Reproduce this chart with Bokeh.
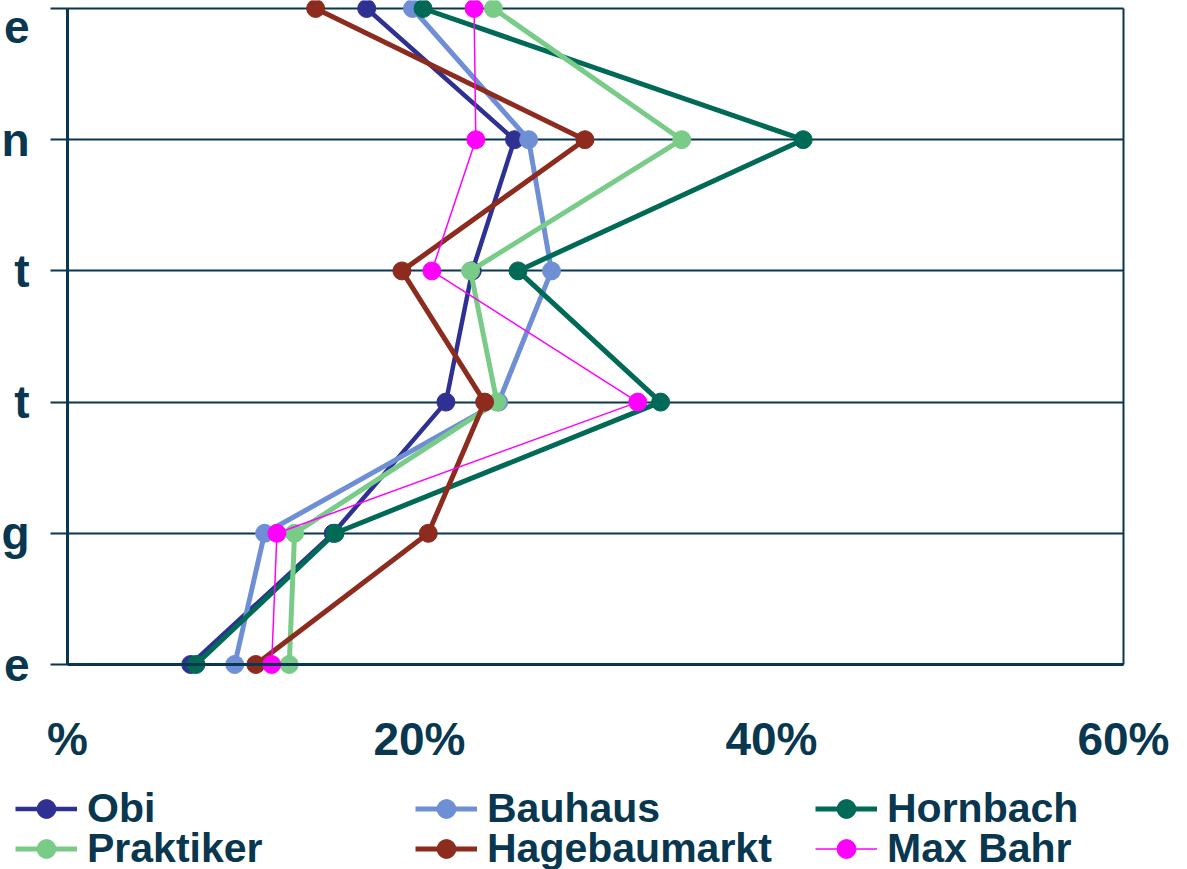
from bokeh.plotting import figure
from bokeh.models import Range1d, FixedTicker, Legend, LegendItem, LinearAxis
from bokeh.embed import file_html
from bokeh.resources import INLINE

# visible (cropped) category label endings, top to bottom
categories = ["e", "n", "t", "t", "g", "e"]
x_ticks = [0, 20, 40, 60]
x_tick_labels = ["%", "20%", "40%", "60%"]

series_names = ["Obi", "Bauhaus", "Hornbach", "Praktiker", "Hagebaumarkt", "Max Bahr"]
obi = [17.0, 25.4, 23.0, 21.5, 15.1, 7.0]
bauhaus = [19.6, 26.2, 27.5, 24.5, 11.2, 9.5]
hornbach = [20.2, 41.8, 25.6, 33.7, 15.2, 7.3]
praktiker = [24.2, 34.9, 22.9, 24.4, 12.9, 12.6]
hagebaumarkt = [14.1, 29.4, 19.0, 23.7, 20.5, 10.7]
max_bahr = [23.1, 23.2, 20.7, 32.4, 11.9, 11.6]

values = [obi, bauhaus, hornbach, praktiker, hagebaumarkt, max_bahr]
colors = ["#2E3192", "#6E8FD6", "#006A57", "#79CB88", "#8C2B1E", "#FF00FF"]
widths = [4.5, 5, 5, 5, 5, 1.5]

NAVY = "#08374F"
FONT = "Liberation Sans"

n = len(categories)
ypos = [n - 1 - i for i in range(n)]
xmin, xmax = x_ticks[0], x_ticks[-1]
ymin, ymax = min(ypos), max(ypos)

# canvas geometry (pixels): plot box inside a full-canvas frame
W, H = 1187, 869
BOX_L, BOX_R, BOX_T, BOX_B = 67, 1123, 8, 664
kx = (BOX_R - BOX_L) / (xmax - xmin)
ky = (BOX_B - BOX_T) / (ymax - ymin)
x_range = Range1d(xmin - BOX_L / kx, xmax + (W - BOX_R) / kx)
y_range = Range1d(ymin - (H - BOX_B) / ky, ymax + BOX_T / ky)

p = figure(width=W, height=H, output_backend="svg", toolbar_location=None,
           x_range=x_range, y_range=y_range,
           min_border_left=0, min_border_right=0, min_border_top=0, min_border_bottom=0)
p.background_fill_color = "white"
p.border_fill_color = "white"
p.outline_line_color = None

p.xgrid.visible = False
g = p.ygrid[0]
g.ticker = FixedTicker(ticks=ypos)
g.grid_line_color = NAVY
g.grid_line_width = 2
g.bounds = (ymin, ymax)
if "cross_bounds" in g.properties():
    g.cross_bounds = (xmin, xmax)

xa = p.xaxis[0]
xa.fixed_location = ymin
xa.bounds = (xmin, xmax)
xa.ticker = FixedTicker(ticks=x_ticks)
xa.major_label_overrides = {t: l for t, l in zip(x_ticks, x_tick_labels)}
xa.axis_line_color = NAVY
xa.axis_line_width = 3
xa.major_tick_out = 0
xa.major_tick_in = 0
xa.minor_tick_out = 0
xa.minor_tick_in = 0
xa.major_label_standoff = 48
xa.major_label_text_font = FONT
xa.major_label_text_font_style = "bold"
xa.major_label_text_font_size = "46px"
xa.major_label_text_color = NAVY

ya = p.yaxis[0]
ya.fixed_location = xmin
ya.bounds = (ymin, ymax)
ya.ticker = FixedTicker(ticks=ypos)
ya.major_label_overrides = {y: c for y, c in zip(ypos, categories)}
ya.axis_line_color = NAVY
ya.axis_line_width = 3
ya.major_tick_out = 17
ya.major_tick_in = 0
ya.major_tick_line_color = NAVY
ya.major_tick_line_width = 2
ya.minor_tick_out = 0
ya.minor_tick_in = 0
ya.major_label_standoff = 21
ya.major_label_text_font = FONT
ya.major_label_text_font_style = "bold"
ya.major_label_text_font_size = "46px"
ya.major_label_text_color = NAVY

# right border of the plot box
rb = LinearAxis(fixed_location=xmax, bounds=(ymin, ymax), ticker=FixedTicker(ticks=[]),
                axis_line_color=NAVY, axis_line_width=2,
                major_tick_out=0, major_tick_in=0, minor_tick_out=0, minor_tick_in=0,
                major_label_text_alpha=0)
p.add_layout(rb, "right")

items = []
for name, vals, c, w in zip(series_names, values, colors, widths):
    l = p.line(vals, ypos, line_color=c, line_width=w)
    s = p.scatter(vals, ypos, size=18, fill_color=c, line_color=c)
    items.append(LegendItem(label=name, renderers=[l, s]))

legend_style = dict(orientation="horizontal", padding=0, margin=0, spacing=0,
                    glyph_width=62, glyph_height=47, label_width=328, label_standoff=10,
                    label_text_font=FONT, label_text_font_style="bold",
                    label_text_font_size="41px", label_text_color=NAVY,
                    border_line_alpha=0, background_fill_alpha=0)
lg1 = Legend(items=items[:3], location=(15, 37), **legend_style)
lg2 = Legend(items=items[3:], location=(15, -3), **legend_style)
p.add_layout(lg1, "center")
p.add_layout(lg2, "center")

open("out.html", "w").write(file_html(p, INLINE))
